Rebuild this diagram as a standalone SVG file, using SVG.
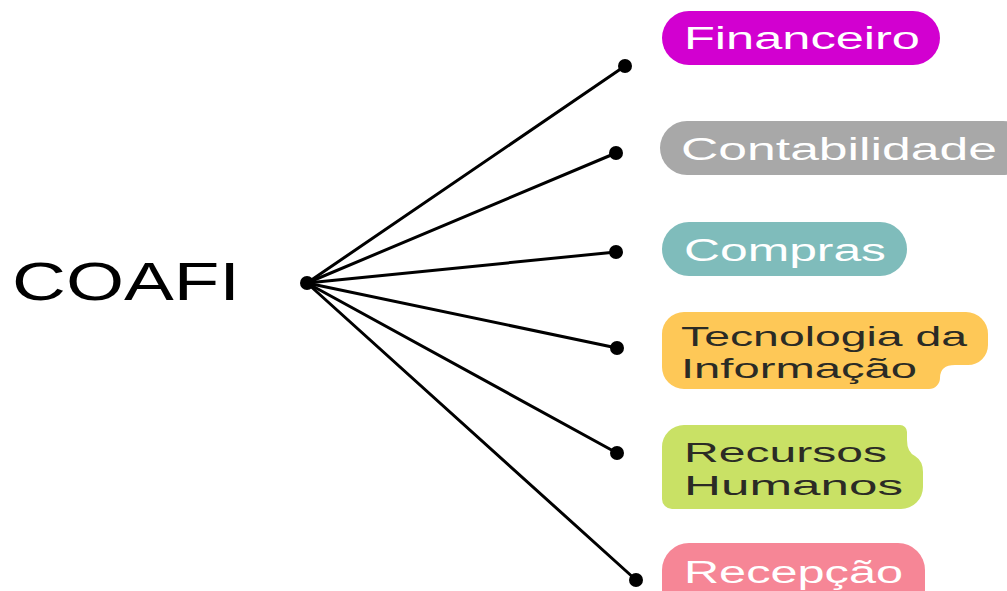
<svg xmlns="http://www.w3.org/2000/svg" width="1007" height="591" viewBox="0 0 1007 591">
<style>
.lbl{font-family:"Liberation Sans","Arial",sans-serif;font-size:31px;}
.two{font-size:28px;}
.w{fill:#ffffff;}
.d{fill:#2b2b25;}
.ln{stroke:#000;stroke-width:3;fill:none;stroke-linecap:round;}
.dot{fill:#000;}
</style>
<rect width="1007" height="591" fill="#ffffff"/>
<g id="connectors">
<line class="ln" x1="307" y1="283" x2="625" y2="66"/>
<line class="ln" x1="307" y1="283" x2="616" y2="153"/>
<line class="ln" x1="307" y1="283" x2="616" y2="252"/>
<line class="ln" x1="307" y1="283" x2="617" y2="348"/>
<line class="ln" x1="307" y1="283" x2="617" y2="453"/>
<line class="ln" x1="307" y1="283" x2="636" y2="580"/>
<circle class="dot" cx="307" cy="283" r="7"/>
<circle class="dot" cx="625" cy="66" r="7"/>
<circle class="dot" cx="616" cy="153" r="7"/>
<circle class="dot" cx="616" cy="252" r="7"/>
<circle class="dot" cx="617" cy="348" r="7"/>
<circle class="dot" cx="617" cy="453" r="7"/>
<circle class="dot" cx="636" cy="580" r="7"/>
</g>
<g id="coafi">
<text x="12" y="300" font-family="'Liberation Sans',Arial,sans-serif" font-size="53" fill="#000" textLength="228" lengthAdjust="spacingAndGlyphs">COAFI</text>
</g>
<g id="financeiro">
<rect x="662" y="11" width="278" height="54" rx="27" fill="#d200d0"/>
<text class="lbl w" x="684" y="49" textLength="236" lengthAdjust="spacingAndGlyphs">Financeiro</text>
</g>
<g id="contabilidade">
<rect x="660" y="121" width="370" height="54" rx="27" fill="#a8a8a8"/>
<text class="lbl w" x="681" y="160" textLength="316" lengthAdjust="spacingAndGlyphs">Contabilidade</text>
</g>
<g id="compras">
<rect x="662" y="222" width="245" height="54" rx="27" fill="#7fbcbb"/>
<text class="lbl w" x="684" y="261" textLength="202" lengthAdjust="spacingAndGlyphs">Compras</text>
</g>
<g id="tecnologia">
<path d="M 684 312 H 966 A 22 22 0 0 1 988 334 V 345 A 20 20 0 0 1 968 365 H 955 Q 940 365 940 378 V 378 A 11 11 0 0 1 929 389 H 684 A 22 22 0 0 1 662 367 V 334 A 22 22 0 0 1 684 312 Z" fill="#fec857"/>
<text class="lbl two d"><tspan x="681" y="346" textLength="286" lengthAdjust="spacingAndGlyphs">Tecnologia da</tspan><tspan x="681" y="378" textLength="236" lengthAdjust="spacingAndGlyphs">Informação</tspan></text>
</g>
<g id="recursos">
<path d="M 684 425 H 900 A 7 7 0 0 1 907 432 V 440 Q 907 452 915 456 Q 923 461 923 472 V 487 A 22 22 0 0 1 901 509 H 672 A 10 10 0 0 1 662 499 V 447 A 22 22 0 0 1 684 425 Z" fill="#c9e165"/>
<text class="lbl two d"><tspan x="684" y="462" textLength="203" lengthAdjust="spacingAndGlyphs">Recursos</tspan><tspan x="684" y="495" textLength="219" lengthAdjust="spacingAndGlyphs">Humanos</tspan></text>
</g>
<g id="recepcao">
<rect x="662" y="543" width="263" height="80" rx="27" fill="#f68696"/>
<text class="lbl w" x="684" y="583" textLength="219" lengthAdjust="spacingAndGlyphs">Recepção</text>
</g>
</svg>
